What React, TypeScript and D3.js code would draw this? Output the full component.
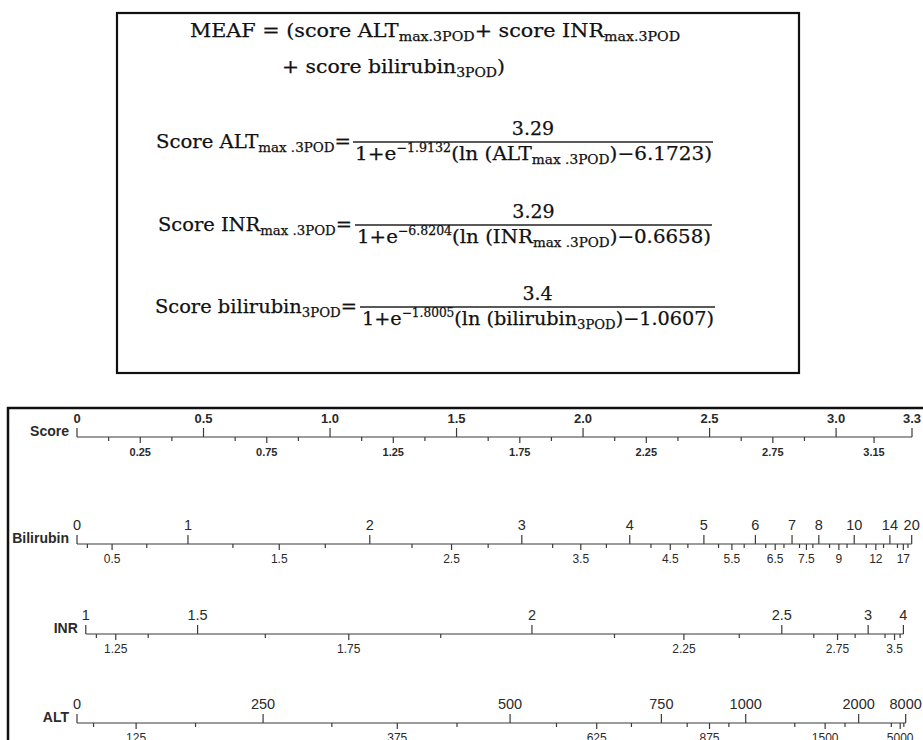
import { scaleLinear } from "d3";

// MEAF score components: [max score, slope, centre] from the formulas
const ALT_PARAMS = [3.29, 1.9132, 6.1723];
const INR_PARAMS = [3.29, 6.8204, 0.6658];
const BILI_PARAMS = [3.4, 1.8005, 1.0607];

const SCORE_TOP = ["0", "0.5", "1.0", "1.5", "2.0", "2.5", "3.0", "3.3"];
const SCORE_BOTTOM = ["0.25", "0.75", "1.25", "1.75", "2.25", "2.75", "3.15"];
const SCORE_MINOR = [0.125, 0.375, 0.625, 0.875, 1.125, 1.375, 1.625, 1.875, 2.125, 2.375, 2.625, 2.875];

const BILI_TOP = ["0", "1", "2", "3", "4", "5", "6", "7", "8", "10", "14", "20"];
const BILI_BOTTOM = ["0.5", "1.5", "2.5", "3.5", "4.5", "5.5", "6.5", "7.5", "9", "12", "17"];
const BILI_MINOR = [0.25, 0.75, 1.25, 1.75, 2.25, 2.75, 3.25, 3.75, 4.25, 4.75, 5.25, 5.75, 6.25, 6.75, 7.25, 7.75, 8.5, 9.5, 11, 13, 15.5, 18.5];

const INR_TOP = ["1", "1.5", "2", "2.5", "3", "4"];
const INR_BOTTOM = ["1.25", "1.75", "2.25", "2.75", "3.5"];
const INR_MINOR = [1.125, 1.375, 1.625, 1.875, 2.125, 2.375, 2.625, 2.875, 3.25, 3.75];

const ALT_TOP = ["0", "250", "500", "750", "1000", "2000", "8000"];
const ALT_BOTTOM = ["125", "375", "625", "875", "1500", "5000"];
const ALT_MINOR = [62.5, 187.5, 312.5, 437.5, 562.5, 687.5, 812.5, 937.5, 1250, 1750, 3500, 6500];

const logistic = ([max, slope, centre]: number[]) => (v: number) =>
  v <= 0 ? 0 : max / (1 + Math.exp(-slope * (Math.log(v) - centre)));

const xScore = scaleLinear().domain([0, 3.3]).range([77, 912]);

const SANS = "'Liberation Sans', Arial, sans-serif";
const SERIF = "'DejaVu Serif', serif";

type AxisProps = {
  title: string;
  y: number;
  toX: (v: number) => number;
  top: string[];
  bottom: string[];
  minor: number[];
  bold?: boolean;
  topSize: number;
  bottomSize: number;
};

const NomoAxis = ({ title, y, toX, top, bottom, minor, bold, topSize, bottomSize }: AxisProps) => {
  const x0 = toX(+top[0]);
  const x1 = toX(+top[top.length - 1]);
  const weight = bold ? "bold" : "normal";
  return (
    <g fill="#2a2a2a" stroke="#3a3a3a" fontFamily={SANS}>
      <text x={x0 - 8} y={y - 1} textAnchor="end" fontSize={14} fontWeight="bold" stroke="none">
        {title}
      </text>
      <line x1={x0} x2={x1} y1={y} y2={y} strokeWidth={1.2} />
      {top.map((t) => (
        <g key={"t" + t}>
          <line x1={toX(+t)} x2={toX(+t)} y1={y} y2={y - 9} strokeWidth={1.2} />
          <text x={toX(+t)} y={y - 14} textAnchor="middle" fontSize={topSize} fontWeight={weight} stroke="none">
            {t}
          </text>
        </g>
      ))}
      {bottom.map((t) => (
        <g key={"b" + t}>
          <line x1={toX(+t)} x2={toX(+t)} y1={y} y2={y + 6} strokeWidth={1.2} />
          <text x={toX(+t)} y={y + 19} textAnchor="middle" fontSize={bottomSize} fontWeight={weight} stroke="none">
            {t}
          </text>
        </g>
      ))}
      {minor.map((v) => (
        <line key={"m" + v} x1={toX(v)} x2={toX(v)} y1={y} y2={y + 4} strokeWidth={1.2} />
      ))}
    </g>
  );
};

// segments of a formula line: [text, "n" | "sub" | "sup"]
type Seg = [string, string];
const SHIFT: Record<string, number> = { n: 0, sub: 4, sup: -8 };
const SIZE: Record<string, number> = { n: 19, sub: 13, sup: 12 };

const Segs = ({ segs }: { segs: Seg[] }) => {
  let prev = "n";
  return (
    <>
      {segs.map(([t, k], i) => {
        const dy = SHIFT[k] - SHIFT[prev];
        prev = k;
        return (
          <tspan key={i} fontSize={SIZE[k]} dy={dy}>
            {t}
          </tspan>
        );
      })}
    </>
  );
};

const Fraction = ({ left, num, den, y, leftX, leftW, lineX1, lineX2 }: {
  left: Seg[]; num: string; den: Seg[];
  y: number; leftX: number; leftW: number; lineX1: number; lineX2: number;
}) => {
  const cx = (lineX1 + lineX2) / 2;
  return (
    <g fontFamily={SERIF} fill="#111" stroke="#111" strokeWidth={0.25}>
      <text x={leftX} y={y + 6} fontSize={19} textLength={leftW} lengthAdjust="spacingAndGlyphs">
        <Segs segs={left} />
      </text>
      <text x={cx} y={y - 7} fontSize={19} textAnchor="middle">{num}</text>
      <line x1={lineX1} x2={lineX2} y1={y} y2={y} stroke="#222" strokeWidth={1.6} />
      <text x={lineX1 + 2} y={y + 18} fontSize={19} textLength={lineX2 - lineX1 - 3} lengthAdjust="spacingAndGlyphs">
        <Segs segs={den} />
      </text>
    </g>
  );
};

const MINUS = "\u2212";

export default function App() {
  const altX = (v: number) => xScore(logistic(ALT_PARAMS)(v));
  const inrX = (v: number) => xScore(logistic(INR_PARAMS)(v));
  const biliX = (v: number) => xScore(logistic(BILI_PARAMS)(v));

  return (
    <svg width={923} height={740} style={{ position: "absolute", left: 0, top: 0, background: "#fff" }}>
      {/* formula box */}
      <rect x={117} y={13} width={682} height={360} fill="none" stroke="#111" strokeWidth={2.2} />
      <g fontFamily={SERIF} fill="#111" stroke="#111" strokeWidth={0.25}>
        <text x={190} y={37} fontSize={19} textLength={490} lengthAdjust="spacingAndGlyphs">
          <Segs segs={[["MEAF = (score ALT", "n"], ["max.3POD", "sub"], ["+ score INR", "n"], ["max.3POD", "sub"]]} />
        </text>
        <text x={282} y={73} fontSize={19} textLength={223} lengthAdjust="spacingAndGlyphs">
          <Segs segs={[["+ score bilirubin", "n"], ["3POD", "sub"], [")", "n"]]} />
        </text>
      </g>
      <Fraction
        left={[["Score ALT", "n"], ["max .3POD", "sub"], ["=", "n"]]}
        num={`${ALT_PARAMS[0]}`}
        den={[["1+e", "n"], [`${MINUS}${ALT_PARAMS[1]}`, "sup"], ["(ln (ALT", "n"], ["max .3POD", "sub"], [`)${MINUS}${ALT_PARAMS[2]})`, "n"]]}
        y={142} leftX={156} leftW={195} lineX1={353} lineX2={713}
      />
      <Fraction
        left={[["Score INR", "n"], ["max .3POD", "sub"], ["=", "n"]]}
        num={`${INR_PARAMS[0]}`}
        den={[["1+e", "n"], [`${MINUS}${INR_PARAMS[1]}`, "sup"], ["(ln (INR", "n"], ["max .3POD", "sub"], [`)${MINUS}${INR_PARAMS[2]})`, "n"]]}
        y={225} leftX={158} leftW={194} lineX1={355} lineX2={712}
      />
      <Fraction
        left={[["Score bilirubin", "n"], ["3POD", "sub"], ["=", "n"]]}
        num={`${BILI_PARAMS[0]}`}
        den={[["1+e", "n"], [`${MINUS}${BILI_PARAMS[1]}`, "sup"], ["(ln (bilirubin", "n"], ["3POD", "sub"], [`)${MINUS}${BILI_PARAMS[2]})`, "n"]]}
        y={307} leftX={155} leftW={202} lineX1={360} lineX2={715}
      />

      {/* nomogram box */}
      <rect x={8} y={408} width={940} height={360} fill="none" stroke="#111" strokeWidth={2.5} />
      <NomoAxis title="Score" y={437} toX={(v) => xScore(v)} top={SCORE_TOP} bottom={SCORE_BOTTOM}
        minor={SCORE_MINOR} bold topSize={13} bottomSize={11} />
      <NomoAxis title="Bilirubin" y={544} toX={biliX} top={BILI_TOP} bottom={BILI_BOTTOM}
        minor={BILI_MINOR} topSize={14.5} bottomSize={12} />
      <NomoAxis title="INR" y={634} toX={inrX} top={INR_TOP} bottom={INR_BOTTOM}
        minor={INR_MINOR} topSize={14.5} bottomSize={12} />
      <NomoAxis title="ALT" y={723} toX={altX} top={ALT_TOP} bottom={ALT_BOTTOM}
        minor={ALT_MINOR} topSize={14.5} bottomSize={12} />
    </svg>
  );
}
